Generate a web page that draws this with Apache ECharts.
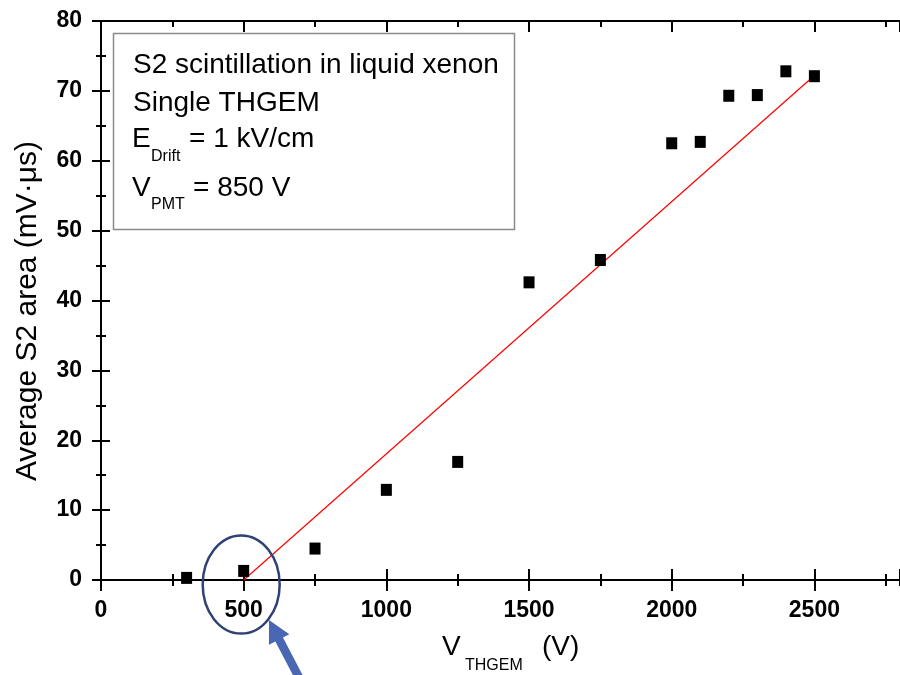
<!DOCTYPE html>
<html>
<head>
<meta charset="utf-8">
<script src="https://cdn.jsdelivr.net/npm/echarts@6/dist/echarts.min.js"></script>
<style>
  html, body { margin: 0; padding: 0; background: #ffffff; }
  #chart { width: 900px; height: 675px; }
</style>
</head>
<body>
<div id="chart"></div>
<script>
// THGEM voltage (V) and measured average S2 area (mV·µs)
const voltages = [300, 500, 750, 1000, 1250, 1500, 1750, 2000, 2100, 2200, 2300, 2400, 2500];
const s2Area   = [0.3, 1.3, 4.5, 12.9, 16.9, 42.6, 45.8, 62.5, 62.7, 69.3, 69.4, 72.8, 72.1];

// Linear fit endpoints
const fitVoltage = [500, 2500];
const fitArea    = [0, 72.2];

// Axis ranges and tick steps
const xRange = [0, 2800];
const xMajorStep = 500;
const xMinorStep = 250;
const yRange = [0, 80];
const yMajorStep = 10;

// Inset legend text
const insetLines = ['S2 scintillation in liquid xenon', 'Single THGEM'];
const driftField = { main: 'E', sub: 'Drift', rest: '= 1 kV/cm' };
const pmtVoltage = { main: 'V', sub: 'PMT', rest: '= 850 V' };
const xTitle = { main: 'V', sub: 'THGEM', rest: '(V)' };
const yTitle = 'Average S2 area (mV\u00B7\u03BCs)';

const FONT = '"Liberation Sans", Arial, Helvetica, sans-serif';
const chart = echarts.init(document.getElementById('chart'), null, { renderer: 'canvas' });

const gridBox = { left: 101, top: 21, width: 800, height: 559 };
const grids = [0, 1, 2, 3, 4].map(() => Object.assign({}, gridBox));

const blank = { show: false };
function xAx(grid, opts) {
  return Object.assign({
    type: 'value', gridIndex: grid, min: xRange[0], max: xRange[1], interval: xMajorStep,
    position: 'bottom', splitLine: blank, axisLabel: blank, axisLine: blank, axisTick: blank
  }, opts);
}
function yAx(grid, opts) {
  return Object.assign({
    type: 'value', gridIndex: grid, min: yRange[0], max: yRange[1], interval: yMajorStep,
    position: 'left', splitLine: blank, axisLabel: blank, axisLine: blank, axisTick: blank
  }, opts);
}
const ls = () => ({ color: '#000', width: 2 });

const option = {
  animation: false,
  backgroundColor: '#ffffff',
  grid: grids,
  xAxis: [
    // main bottom axis: line, outward major ticks, labels
    xAx(0, {
      axisLine: { show: true, onZero: false, lineStyle: ls() },
      axisTick: { show: true, inside: false, length: 11, lineStyle: ls() },
      axisLabel: {
        show: true, margin: 19, color: '#000', fontFamily: FONT, fontWeight: 'bold', fontSize: 23,
        showMaxLabel: false,
        formatter: v => (v % xMajorStep === 0 ? String(v) : '')
      }
    }),
    // inward major ticks on the bottom
    xAx(1, { axisTick: { show: true, inside: true, length: 11, lineStyle: ls() } }),
    // minor ticks on the bottom, both directions
    xAx(2, { interval: xMinorStep, axisTick: { show: true, inside: true, length: 6, lineStyle: ls() } }),
    xAx(3, { interval: xMinorStep, axisTick: { show: true, inside: false, length: 6, lineStyle: ls() } }),
    // top frame axis with inward ticks
    xAx(4, { position: 'top', axisLine: { show: true, onZero: false, lineStyle: ls() },
      axisTick: { show: true, inside: true, length: 11, lineStyle: ls() } }),
    xAx(2, { interval: xMinorStep, position: 'top', axisTick: { show: true, inside: true, length: 6, lineStyle: ls() } })
  ],
  yAxis: [
    yAx(0, {
      axisLine: { show: true, onZero: false, lineStyle: ls() },
      axisTick: { show: true, inside: false, length: 9, lineStyle: ls() },
      minorTick: { show: true, splitNumber: 2, length: 5, lineStyle: ls() },
      axisLabel: { show: true, margin: 19, color: '#000', fontFamily: FONT, fontWeight: 'bold', fontSize: 23 }
    }),
    yAx(1, {
      axisTick: { show: true, inside: true, length: 9, lineStyle: ls() },
      minorTick: { show: true, splitNumber: 2, length: 5, lineStyle: ls() }
    }),
    yAx(2, {}),
    yAx(3, {}),
    // right frame: ticks only, its line falls just past the canvas edge
    yAx(4, {
      position: 'right',
      axisTick: { show: true, inside: true, length: 9, lineStyle: ls() },
      minorTick: { show: true, splitNumber: 2, length: 5, lineStyle: ls() }
    })
  ],
  series: [
    {
      type: 'line',
      xAxisIndex: 0, yAxisIndex: 0,
      data: fitVoltage.map((v, i) => [v, fitArea[i]]),
      symbol: 'none',
      lineStyle: { color: '#ff0000', width: 1.2 },
      z: 3
    },
    {
      type: 'scatter',
      xAxisIndex: 0, yAxisIndex: 0,
      data: voltages.map((v, i) => [v, s2Area[i]]),
      symbol: 'rect',
      symbolSize: [11, 12],
      itemStyle: { color: '#000', opacity: 1 },
      clip: false,
      z: 4
    }
  ]
};
chart.setOption(option);

// Annotation graphics
const txt = (x, y, text, size) => ({
  type: 'text', x, y, z: 12,
  style: { text, fill: '#000', font: size + 'px ' + FONT, textVerticalAlign: 'middle' }
});

const p500 = chart.convertToPixel({ xAxisIndex: 0, yAxisIndex: 0 }, [fitVoltage[0], 0]);
const ellipseCx = p500[0] - 2.5, ellipseCy = p500[1] + 4.5;

// arrow pointing at the circled region
const tip = [ellipseCx + 27.8, ellipseCy + 35.5];
const dir = [0.463, 0.886];
const nrm = [-dir[1], dir[0]];
const headLen = 22, headHalf = 11.5, shaftHalf = 4.3, shaftLen = 80;
const base = [tip[0] + dir[0] * headLen, tip[1] + dir[1] * headLen];
const end = [tip[0] + dir[0] * shaftLen, tip[1] + dir[1] * shaftLen];
const arrowPts = [
  tip,
  [base[0] + nrm[0] * headHalf, base[1] + nrm[1] * headHalf],
  [base[0] + nrm[0] * shaftHalf, base[1] + nrm[1] * shaftHalf],
  [end[0] + nrm[0] * shaftHalf, end[1] + nrm[1] * shaftHalf],
  [end[0] - nrm[0] * shaftHalf, end[1] - nrm[1] * shaftHalf],
  [base[0] - nrm[0] * shaftHalf, base[1] - nrm[1] * shaftHalf],
  [base[0] - nrm[0] * headHalf, base[1] - nrm[1] * headHalf]
];

chart.setOption({
  graphic: [
    // inset box
    { type: 'rect', shape: { x: 113.5, y: 33.5, width: 401, height: 196 },
      style: { fill: '#fff', stroke: '#8a8a8a', lineWidth: 1.5 }, z: 10 },
    txt(133, 65, insetLines[0], 28),
    txt(133, 103, insetLines[1], 28),
    txt(132, 139, driftField.main, 28),
    txt(151, 157, driftField.sub, 16),
    txt(189, 139, driftField.rest, 28),
    txt(132, 188, pmtVoltage.main, 28),
    txt(151, 205, pmtVoltage.sub, 16),
    txt(193, 188, pmtVoltage.rest, 28),
    // axis titles
    txt(442, 647, xTitle.main, 28),
    txt(465, 666, xTitle.sub, 16),
    txt(542, 647, xTitle.rest, 28),
    { type: 'text', x: 28, y: 311, rotation: Math.PI / 2, z: 12,
      style: { text: yTitle, fill: '#000', font: '30px ' + FONT, textAlign: 'center', textVerticalAlign: 'middle' } },
    // highlight ellipse and arrow
    { type: 'ellipse', shape: { cx: ellipseCx, cy: ellipseCy, rx: 38.5, ry: 49 },
      style: { fill: 'none', stroke: '#2f4276', lineWidth: 2.5 }, z: 20 },
    { type: 'polygon', shape: { points: arrowPts }, style: { fill: '#4a67b3' }, z: 20 }
  ]
});
</script>
</body>
</html>
